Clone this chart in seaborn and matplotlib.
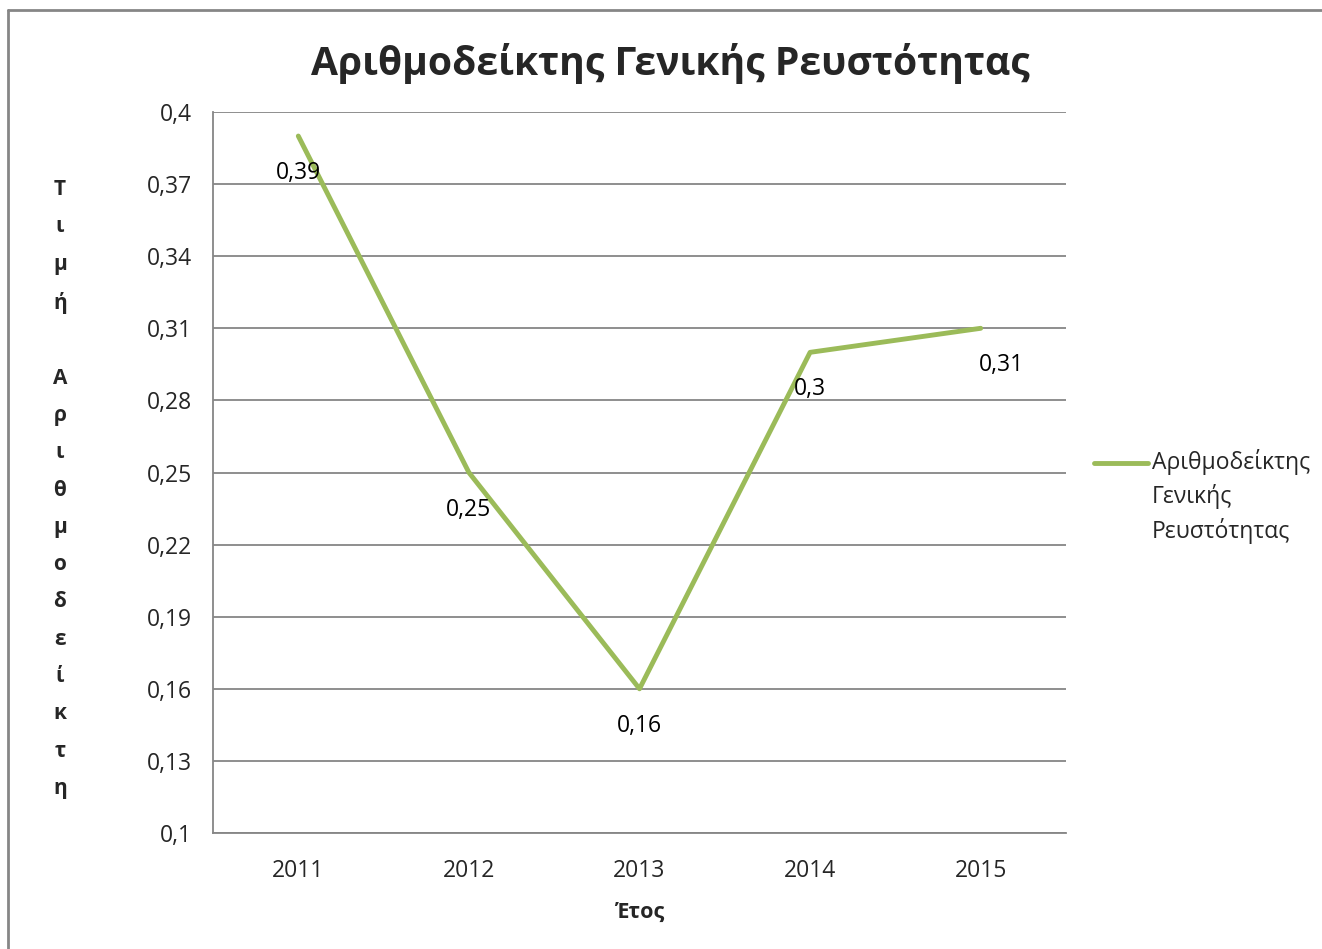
import numpy as np
import matplotlib.pyplot as plt
import seaborn as sns
from matplotlib.lines import Line2D

# Daten
years = ["2011", "2012", "2013", "2014", "2015"]
values = [0.39, 0.25, 0.16, 0.30, 0.31]
value_labels = ["0,39", "0,25", "0,16", "0,3", "0,31"]
label_dx = [0, 0, 0, 0, 21]  # Pixelversatz der Beschriftungen
yticks = [0.10, 0.13, 0.16, 0.19, 0.22, 0.25, 0.28, 0.31, 0.34, 0.37, 0.40]
ytick_labels = ["0,1", "0,13", "0,16", "0,19", "0,22", "0,25", "0,28", "0,31", "0,34", "0,37", "0,4"]

green = "#9BBB59"
grey = "#868686"

sns.set_style("white")
plt.rcParams["font.family"] = ["Open Sans", "DejaVu Sans"]

W, H = 1322, 949
fig = plt.figure(figsize=(W / 100, H / 100), dpi=100)
ax = fig.add_axes([213 / W, 1 - 833 / H, (1066 - 213) / W, (833 - 112) / H])

x = np.arange(len(years))
sns.lineplot(x=x, y=values, ax=ax, color=green, linewidth=3.5,
             solid_capstyle="round", solid_joinstyle="round",
             legend=False, zorder=3)

# Datenbeschriftungen unter den Punkten
for xi, v, lab, dx in zip(x, values, value_labels, label_dx):
    ax.annotate(lab, (xi, v), xytext=(dx, -37), textcoords="offset pixels",
                ha="center", va="center", fontsize=16.5, color="black", zorder=4)

ax.set_xlim(-0.5, len(years) - 0.5)
ax.set_ylim(0.1, 0.4)
ax.set_yticks(yticks)
ax.set_yticklabels(ytick_labels)
ax.yaxis.grid(True, color=grey, linewidth=1.3)
ax.xaxis.grid(False)

# Kategorie-Achse: Striche an den Grenzen, Beschriftung in der Mitte
ax.set_xticks(np.arange(-0.5, len(years), 1.0))
ax.set_xticklabels([""] * (len(years) + 1))
ax.set_xticks(x, minor=True)
ax.set_xticklabels(years, minor=True)
ax.tick_params(axis="x", which="major", direction="out", length=7, width=1.3, color=grey)
ax.tick_params(axis="x", which="minor", length=0, pad=19, labelsize=16.5)
ax.tick_params(axis="y", direction="out", length=7, width=1.3, color=grey, pad=8, labelsize=16.5)

for s in ["top", "right"]:
    ax.spines[s].set_visible(False)
for s in ["left", "bottom"]:
    ax.spines[s].set_color(grey)
    ax.spines[s].set_linewidth(1.3)

# Titel (über der gesamten Diagrammfläche zentriert)
fig.text(670 / W, 1 - 63 / H, "Αριθμοδείκτης Γενικής Ρευστότητας", fontsize=28.2,
         fontweight="bold", ha="center", va="center")
ax.set_xlabel("Έτος", fontsize=15.5, fontweight="bold", labelpad=13)

ylab = "Τιμή Αριθμοδείκτη"
ax.set_ylabel("\n".join(list(ylab)), rotation=0, fontsize=15, fontweight="bold",
              linespacing=2.02, va="center", ha="center")
ax.yaxis.set_label_coords((60 - 213) / (1066 - 213), 1 - (489 - 112) / (833 - 112))

# Legende
fig.add_artist(Line2D([1094 / W, 1148 / W], [1 - 463 / H, 1 - 463 / H], color=green,
                      linewidth=3.5, solid_capstyle="round", transform=fig.transFigure))
fig.text(1152 / W, 1 - 449 / H, "Αριθμοδείκτης\nΓενικής\nΡευστότητας", fontsize=16.5,
         ha="left", va="top", linespacing=1.45)

# Rahmen des Diagrammbereichs
fig.add_artist(Line2D([8 / W, 1], [1 - 10 / H, 1 - 10 / H], color=grey, linewidth=2,
                      transform=fig.transFigure))
fig.add_artist(Line2D([8 / W, 8 / W], [0, 1 - 10 / H], color=grey, linewidth=2,
                      transform=fig.transFigure))

fig.savefig("out.png", dpi=100)
